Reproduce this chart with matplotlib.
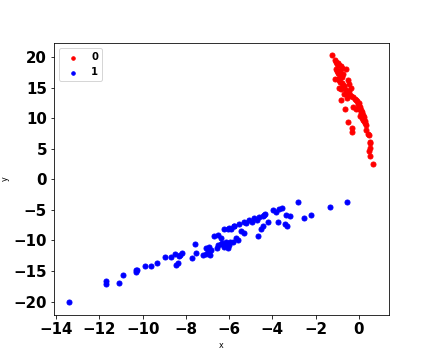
from matplotlib import pyplot as plt

# cluster 0 (red)
red_x = [-1.26, -1.10, -1.05, -1.00, -0.95, -0.90, -0.85, -0.80,
         -1.08, -1.02, -0.96, -0.92, -0.88, -0.84, -0.78, -0.72,
         -0.98, -0.94, -0.86, -0.80, -0.74, -0.68, -0.60, -0.52,
         -0.90, -0.82, -0.76, -0.70, -0.62, -0.55, -0.48, -0.42, -0.35, -0.28, -0.20, -0.14,
         -0.82, -0.66, -0.28, -0.51, -0.32, -0.31,
         -0.10, -0.05, 0.00, 0.05, 0.10, 0.15, 0.20, 0.25, 0.30, 0.34,
         -0.02, 0.08, 0.18, 0.28, 0.12, 0.22,
         0.42, 0.46, 0.50, 0.50, 0.52, 0.48, 0.50, 0.65,
         -0.45, -0.38, 0.02, 0.32,
         -1.12, -0.70, -0.55, -0.15, 0.05]
red_y = [20.3, 19.6, 19.2, 18.9, 19.0, 18.7, 18.5, 18.2,
         18.0, 17.7, 17.5, 17.2, 17.8, 17.0, 16.8, 17.3,
         16.5, 16.2, 16.0, 15.8, 15.5, 15.3, 18.1, 16.2,
         15.0, 14.8, 15.2, 14.9, 14.6, 14.2, 14.4, 13.9, 13.6, 13.5, 13.2, 13.0,
         13.0, 11.6, 11.9, 9.4, 8.4, 7.8,
         12.8, 12.3, 12.5, 11.8, 11.3, 11.0, 10.6, 10.2, 9.6, 8.9,
         11.5, 10.9, 9.8, 9.2, 10.0, 9.5,
         7.5, 7.2, 6.2, 5.9, 5.2, 4.6, 3.9, 2.5,
         15.6, 14.9, 12.0, 8.1,
         16.4, 14.0, 13.4, 11.6, 10.4]

# cluster 1 (blue)
blue_x = [-13.41, -11.71, -11.71, -11.09, -10.91, -10.32, -10.25, -10.32, -9.90, -9.60,
          -9.36, -8.95, -8.70, -8.50, -8.47, -8.36, -8.27, -8.20, -8.31, -7.60,
          -7.54, -7.70, -7.19, -7.07, -6.95, -7.00, -6.88, -6.84, -6.58, -7.07,
          -6.92, -6.69, -6.54, -6.38, -6.54, -6.31, -6.15, -6.00, -6.23, -6.07,
          -6.40, -6.20, -6.10, -5.95, -5.84, -5.68, -5.61, -5.33, -5.45, -6.23,
          -6.00, -5.77, -5.54, -5.30, -5.07, -4.84, -4.61, -4.38, -6.07, -5.92,
          -5.76, -5.20, -4.95, -4.70, -4.68, -4.52, -4.45, -4.22, -4.45, -4.33,
          -3.99, -3.83, -3.68, -3.55, -3.75, -3.37, -3.21, -3.40, -3.34, -2.80,
          -2.56, -2.24, -1.36, -0.56]
blue_y = [-20.05, -16.7, -17.2, -16.9, -15.6, -14.8, -14.9, -15.2, -14.2, -14.2,
          -13.7, -12.7, -12.7, -12.2, -14.0, -13.7, -12.3, -12.0, -12.6, -10.6,
          -12.0, -12.9, -12.3, -12.2, -11.95, -11.8, -12.3, -11.6, -11.2, -11.2,
          -11.0, -9.3, -9.1, -9.6, -10.7, -10.4, -10.2, -10.7, -11.0, -11.2,
          -10.5, -10.6, -10.9, -10.3, -10.2, -9.6, -9.9, -8.8, -8.5, -8.2,
          -7.9, -7.6, -7.3, -7.0, -6.7, -6.4, -6.1, -5.9, -8.2, -8.1,
          -7.7, -7.2, -6.9, -6.6, -9.3, -8.2, -7.7, -7.0, -6.0, -5.6,
          -5.0, -5.3, -4.9, -4.65, -6.9, -5.8, -6.0, -7.3, -7.7, -3.7,
          -6.3, -5.8, -4.5, -3.7]

fig = plt.figure(figsize=(6, 5), dpi=72)
ax = fig.add_subplot(111)
fig.subplots_adjust(left=0.125, right=0.9, top=0.88, bottom=0.125)

ax.scatter(red_x, red_y, c="red", s=25, label="0")
ax.scatter(blue_x, blue_y, c="blue", s=25, label="1")

ax.set_xlim(-14.1, 1.38)
ax.set_ylim(-22.2, 22.3)
ax.set_xlabel("x", fontsize=8)
ax.set_ylabel("y", fontsize=8)

for lab in ax.get_xticklabels() + ax.get_yticklabels():
    lab.set_fontsize(15)
    lab.set_fontweight("bold")

ax.legend(loc="upper left", prop={"weight": "bold", "size": 10}, markerscale=0.7)

plt.savefig("out.png", dpi=72)
